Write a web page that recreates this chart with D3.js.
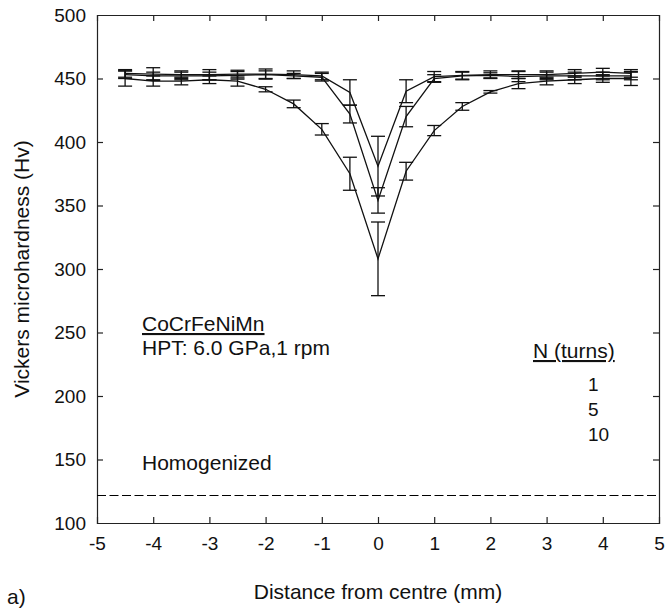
<!DOCTYPE html>
<html>
<head>
<meta charset="utf-8">
<script src="https://cdn.jsdelivr.net/npm/d3@7"></script>
<style>
  body { margin: 0; background: #fff; }
  text { font-family: "Liberation Sans", Arial, sans-serif; fill: #111; }
</style>
</head>
<body>
<script>
// positions across the disc (mm)
var xPos = [-4.5, -4, -3.5, -3, -2.5, -2, -1.5, -1, -0.5, 0, 0.5, 1, 1.5, 2, 2.5, 3, 3.5, 4, 4.5];

// N = 1 turn
var n1Mean = [450, 448, 448, 449, 448, 441.5, 430, 410, 375, 308, 377, 409, 428, 439.5, 446, 448, 449, 450, 450];
var n1Err  = [6, 4, 3, 3, 4, 2, 3, 4.5, 13, 29, 7, 4, 3, 1, 4, 3, 3, 3, 5.5];

// N = 5 turns
var n5Mean = [453, 452, 452, 452, 452.5, 453, 452, 451, 422, 354, 420, 450, 452, 452.5, 451.5, 452, 452, 452, 452];
var n5Err  = [3, 3, 3, 3, 3, 3, 2, 3, 7, 10, 8, 3, 3, 2, 4, 3, 3, 3, 3];

// N = 10 turns
var n10Mean = [454, 453.5, 453, 453, 453.5, 453.5, 453, 452, 439, 381, 440, 451.5, 452.5, 453, 453, 453, 454, 455, 454];
var n10Err  = [3, 5, 3, 4, 3, 4, 3, 3, 10, 23.5, 9, 4, 3, 3, 3, 3, 3, 3, 3];

var homogenizedHv = 122;

var xTicks = [-5, -4, -3, -2, -1, 0, 1, 2, 3, 4, 5];
var yTicks = [100, 150, 200, 250, 300, 350, 400, 450, 500];
var legendLabels = ["1", "5", "10"];

var w = 667, h = 610;
var margin = { left: 97, right: 8, top: 15, bottom: 87 };
var pw = w - margin.left - margin.right;
var ph = h - margin.top - margin.bottom;

var svg = d3.select("body").append("svg")
  .attr("width", w)
  .attr("height", h);

var x = d3.scaleLinear().domain([-5, 5]).range([0, pw]);
var y = d3.scaleLinear().domain([100, 500]).range([ph, 0]);

var g = svg.append("g")
  .attr("transform", "translate(" + margin.left + "," + margin.top + ")");

// axes - ticks pointing inwards on all four sides
var tickLen = 6;
var plain = function(d) { return String(d); }; // keep the plain hyphen for negatives
var bottomAxis = d3.axisBottom(x).tickValues(xTicks).tickSize(-tickLen).tickPadding(14).tickFormat(plain);
var topAxis = d3.axisTop(x).tickValues(xTicks).tickSize(-tickLen).tickFormat("");
var leftAxis = d3.axisLeft(y).tickValues(yTicks).tickSize(-tickLen).tickPadding(11).tickFormat(plain);
var rightAxis = d3.axisRight(y).tickValues(yTicks).tickSize(-tickLen).tickFormat("");

function styleAxis(sel) {
  sel.selectAll("path").attr("stroke", "#222").attr("stroke-width", 1.2);
  sel.selectAll("line").attr("stroke", "#222").attr("stroke-width", 1.2);
  sel.selectAll("text")
    .style("font-family", "'Liberation Sans', Arial, sans-serif")
    .style("font-size", "19px")
    .attr("fill", "#111");
}

g.append("g").attr("transform", "translate(0," + ph + ")").call(bottomAxis).call(styleAxis);
g.append("g").call(topAxis).call(styleAxis);
g.append("g").call(leftAxis).call(styleAxis);
g.append("g").attr("transform", "translate(" + pw + ",0)").call(rightAxis).call(styleAxis);

// hide the end ticks that sit on the frame corners
g.selectAll(".tick").filter(function(d) { return d === -5 || d === 5 || d === 100 || d === 500; })
  .select("line").remove();

// homogenized reference line
g.append("line")
  .attr("x1", x(-5)).attr("x2", x(5))
  .attr("y1", Math.round(y(homogenizedHv)) + 0.5).attr("y2", Math.round(y(homogenizedHv)) + 0.5)
  .attr("stroke", "#000")
  .attr("stroke-width", 1)
  .attr("stroke-dasharray", "9,3.5");

// series
var series = [
  { n: 1, mean: n1Mean, err: n1Err },
  { n: 5, mean: n5Mean, err: n5Err },
  { n: 10, mean: n10Mean, err: n10Err }
];

var line = d3.line()
  .x(function(d) { return x(d.x); })
  .y(function(d) { return y(d.v); });

var capW = 7;

series.forEach(function(s) {
  var pts = xPos.map(function(xv, i) { return { x: xv, v: s.mean[i], e: s.err[i] }; });

  g.append("path")
    .datum(pts)
    .attr("d", line)
    .attr("fill", "none")
    .attr("stroke", "#111")
    .attr("stroke-width", 1.3);

  var bars = g.append("g").selectAll("g")
    .data(pts)
    .enter()
    .append("g")
    .attr("stroke", "#111")
    .attr("stroke-width", 1.3);

  bars.append("line")
    .attr("x1", function(d) { return x(d.x); })
    .attr("x2", function(d) { return x(d.x); })
    .attr("y1", function(d) { return y(d.v + d.e); })
    .attr("y2", function(d) { return y(d.v - d.e); });

  bars.append("line")
    .attr("x1", function(d) { return x(d.x) - capW; })
    .attr("x2", function(d) { return x(d.x) + capW; })
    .attr("y1", function(d) { return y(d.v + d.e); })
    .attr("y2", function(d) { return y(d.v + d.e); });

  bars.append("line")
    .attr("x1", function(d) { return x(d.x) - capW; })
    .attr("x2", function(d) { return x(d.x) + capW; })
    .attr("y1", function(d) { return y(d.v - d.e); })
    .attr("y2", function(d) { return y(d.v - d.e); });
});

// annotations
var annoSize = "21px";
g.append("text").attr("x", 45).attr("y", 316).style("font-size", annoSize)
  .attr("text-decoration", "underline").text("CoCrFeNiMn");
g.append("text").attr("x", 45).attr("y", 340).style("font-size", annoSize)
  .text("HPT: 6.0 GPa,1 rpm");
g.append("text").attr("x", 45).attr("y", 455).style("font-size", annoSize)
  .text("Homogenized");

g.append("text").attr("x", 436).attr("y", 343).style("font-size", annoSize)
  .attr("text-decoration", "underline").text("N (turns)");

g.selectAll(".legend-label")
  .data(legendLabels)
  .enter()
  .append("text")
  .attr("class", "legend-label")
  .attr("x", 491)
  .attr("y", function(d, i) { return 376 + i * 25; })
  .style("font-size", "19px")
  .text(function(d) { return d; });

// axis titles
svg.append("text")
  .attr("x", margin.left + pw / 2)
  .attr("y", 599)
  .attr("text-anchor", "middle")
  .style("font-size", annoSize)
  .text("Distance from centre (mm)");

svg.append("text")
  .attr("transform", "translate(29," + (margin.top + ph / 2) + ") rotate(-90)")
  .attr("text-anchor", "middle")
  .style("font-size", annoSize)
  .text("Vickers microhardness (Hv)");

svg.append("text")
  .attr("x", 7)
  .attr("y", 604)
  .style("font-size", annoSize)
  .text("a)");
</script>
</body>
</html>
